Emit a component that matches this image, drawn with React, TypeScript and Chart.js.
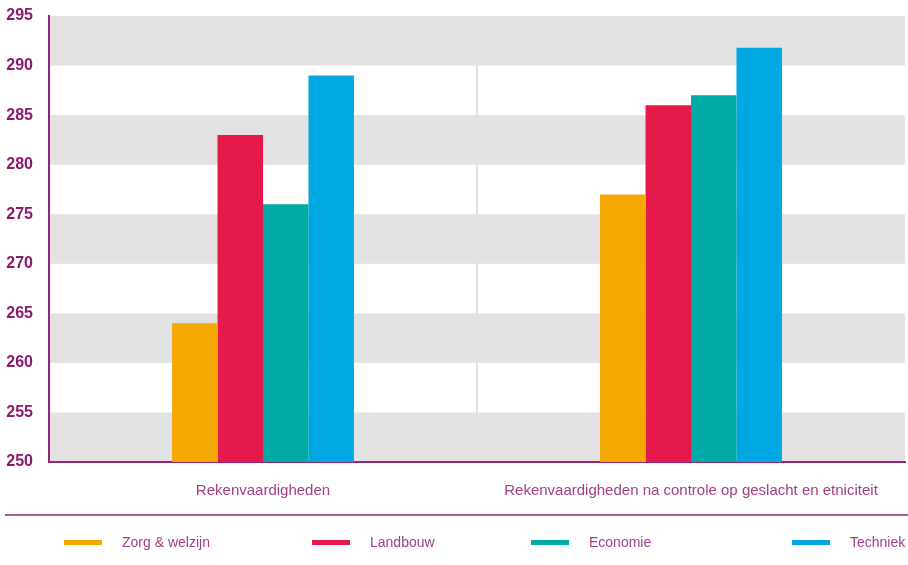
import React, { useEffect, useRef } from "react";
import { Chart, registerables } from "chart.js";

Chart.register(...registerables);

const categories = [
  "Rekenvaardigheden",
  "Rekenvaardigheden na controle op geslacht en etniciteit",
];
const seriesNames = ["Zorg & welzijn", "Landbouw", "Economie", "Techniek"];
const zorgValues = [264, 277];
const landbouwValues = [283, 286];
const economieValues = [276, 287];
const techniekValues = [289, 291.8];
const yMin = 250;
const yMax = 295;
const yStep = 5;
const bandRanges: [number, number][] = [
  [290, 295],
  [280, 285],
  [270, 275],
  [260, 265],
  [250, 255],
];

const seriesColors = ["#f5a800", "#e5194a", "#00aaa7", "#00a8e3"];
const legendX = [64, 312, 531, 792];
const FONT = "'Liberation Sans', Arial, sans-serif";
const DARK_PURPLE = "#8b1a6b";
const LABEL_PURPLE = "#a0408a";
const AXIS_PURPLE = "#93247a";
const BAND_GRAY = "#e2e2e2";

const bandsPlugin = {
  id: "bands",
  beforeDraw(chart: any) {
    const { ctx, chartArea, scales } = chart;
    const y = scales.y;
    ctx.save();
    ctx.fillStyle = BAND_GRAY;
    bandRanges.forEach(([lo, hi]) => {
      const top = y.getPixelForValue(hi);
      const bottom = y.getPixelForValue(lo);
      ctx.fillRect(chartArea.left, top, chartArea.right - chartArea.left, bottom - top);
    });
    ctx.restore();
  },
};

const legendPlugin = {
  id: "customLegend",
  afterDraw(chart: any) {
    const { ctx } = chart;
    ctx.save();
    ctx.strokeStyle = AXIS_PURPLE;
    ctx.lineWidth = 1.5;
    ctx.beginPath();
    ctx.moveTo(5, 515);
    ctx.lineTo(908, 515);
    ctx.stroke();
    ctx.font = `14px ${FONT}`;
    ctx.textBaseline = "middle";
    ctx.textAlign = "left";
    chart.data.datasets.forEach((ds: any, i: number) => {
      const x = legendX[i];
      ctx.fillStyle = ds.backgroundColor;
      ctx.fillRect(x, 540, 38, 5);
      ctx.fillStyle = LABEL_PURPLE;
      ctx.fillText(ds.label, x + 58, 543);
    });
    ctx.restore();
  },
};

export default function App() {
  const ref = useRef<HTMLCanvasElement | null>(null);

  useEffect(() => {
    if (!ref.current) return;
    const allValues = [zorgValues, landbouwValues, economieValues, techniekValues];
    const chart = new Chart(ref.current, {
      type: "bar",
      data: {
        labels: categories,
        datasets: seriesNames.map((name, i) => ({
          label: name,
          data: allValues[i],
          backgroundColor: seriesColors[i],
          borderWidth: 0,
          categoryPercentage: 0.425,
          barPercentage: 1.0,
        })),
      },
      options: {
        animation: false,
        responsive: false,
        maintainAspectRatio: false,
        layout: { padding: { top: 16, right: 3, left: 0, bottom: 0 } },
        plugins: {
          legend: { display: false },
          tooltip: { enabled: false },
        },
        scales: {
          x: {
            grid: {
              display: true,
              offset: true,
              drawTicks: false,
              color: (c: any) => (c.index === 1 ? BAND_GRAY : "rgba(0,0,0,0)"),
              lineWidth: 2,
            },
            border: { display: true, color: AXIS_PURPLE, width: 2 },
            ticks: {
              color: LABEL_PURPLE,
              font: { family: FONT, size: 15 },
              padding: 20,
              maxRotation: 0,
              autoSkip: false,
            },
            afterFit: (scale: any) => {
              scale.height = 103;
              scale.paddingLeft = 0;
              scale.paddingRight = 0;
            },
          },
          y: {
            min: yMin,
            max: yMax,
            grid: { display: false, drawTicks: false },
            border: { display: true, color: AXIS_PURPLE, width: 2 },
            ticks: {
              stepSize: yStep,
              color: DARK_PURPLE,
              font: { family: FONT, size: 16, weight: "bold" },
              padding: 16,
            },
            afterFit: (scale: any) => {
              scale.width = 49;
              scale.paddingTop = 0;
              scale.paddingBottom = 0;
            },
          },
        },
      },
      plugins: [bandsPlugin, legendPlugin],
    });
    return () => chart.destroy();
  }, []);

  return (
    <div style={{ position: "fixed", left: 0, top: 0, width: 908, height: 565, background: "#fff" }}>
      <canvas ref={ref} width={908} height={565} style={{ width: 908, height: 565, display: "block" }} />
    </div>
  );
}
